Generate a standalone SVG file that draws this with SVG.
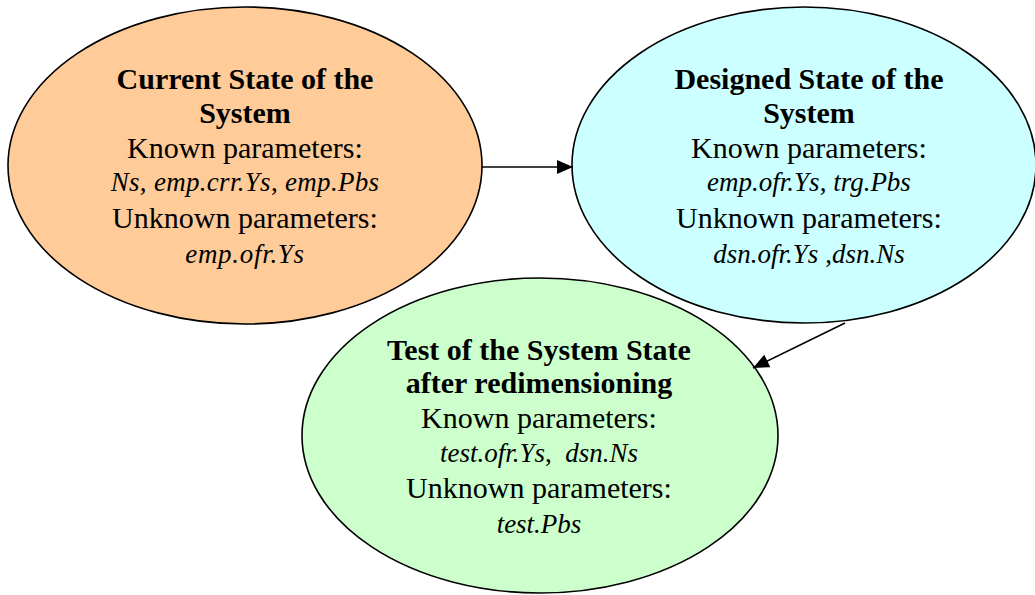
<svg xmlns="http://www.w3.org/2000/svg" width="1035" height="595" viewBox="0 0 1035 595">
<defs>
<style>
.node ellipse{stroke:#000;stroke-width:1.6}
text{font-family:"Liberation Serif","Times New Roman",serif;fill:#000;text-anchor:middle}
.t{font-weight:bold;font-size:30px}
.r{font-size:30px}
.i{font-size:27px;font-style:italic}
.u{font-style:normal}
.conn line{stroke:#000;stroke-width:1.6}
</style>
<marker id="ah" viewBox="0 0 16 14" refX="16" refY="7" markerWidth="16" markerHeight="14" markerUnits="userSpaceOnUse" orient="auto">
<path d="M0,0 L16,7 L0,14 Z" fill="#000"/>
</marker>
</defs>
<rect width="1035" height="595" fill="#fff"/>
<g id="current" class="node">
<ellipse cx="245" cy="165.5" rx="237" ry="158.5" fill="#FFCC99"/>
<text class="t" x="245" y="89">Current State of the</text>
<text class="t" x="245" y="123">System</text>
<text class="r" x="245" y="158">Known parameters:</text>
<text class="i" x="245" y="191" letter-spacing="0.3">Ns<tspan class="u">, </tspan>emp.crr.Ys<tspan class="u">, </tspan>emp.Pbs</text>
<text class="r" x="245" y="228">Unknown parameters:</text>
<text class="i" x="245" y="263" letter-spacing="0.7">emp.ofr.Ys</text>
</g>
<g id="designed" class="node">
<ellipse cx="804" cy="165" rx="232" ry="158" fill="#CCFFFF"/>
<text class="t" x="809" y="89">Designed State of the</text>
<text class="t" x="809" y="123">System</text>
<text class="r" x="809" y="158">Known parameters:</text>
<text class="i" x="809" y="191">emp.ofr.Ys<tspan class="u">, </tspan>trg.Pbs</text>
<text class="r" x="809" y="228">Unknown parameters:</text>
<text class="i" x="809" y="263">dsn.ofr.Ys <tspan class="u">,</tspan>dsn.Ns</text>
</g>
<g id="test" class="node">
<ellipse cx="540" cy="435.5" rx="238" ry="157.5" fill="#CCFFCC"/>
<text class="t" x="539" y="360">Test of the System State</text>
<text class="t" x="539" y="393">after redimensioning</text>
<text class="r" x="539" y="428">Known parameters:</text>
<text class="i" x="539" y="462">test.ofr.Ys<tspan class="u">,&#160; </tspan>dsn.Ns</text>
<text class="r" x="539" y="498">Unknown parameters:</text>
<text class="i" x="539" y="533">test.Pbs</text>
</g>
<g id="connectors" class="conn">
<line x1="482" y1="167" x2="573" y2="167" marker-end="url(#ah)"/>
<line x1="845" y1="323" x2="753" y2="368" marker-end="url(#ah)"/>
</g>
</svg>
